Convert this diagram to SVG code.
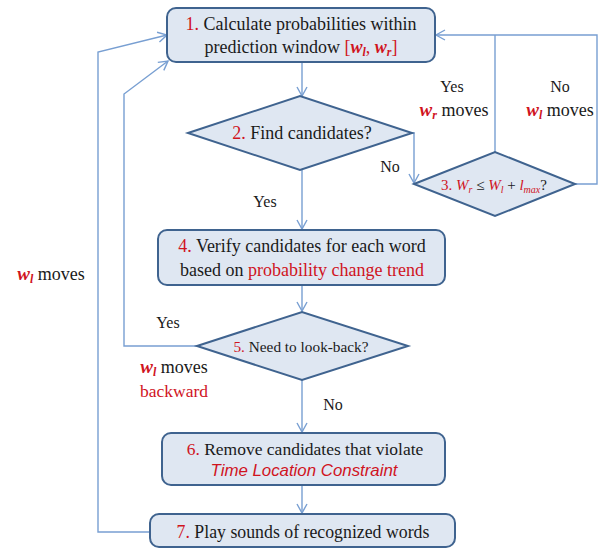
<svg xmlns="http://www.w3.org/2000/svg" width="599" height="549" viewBox="0 0 599 549">
<style>
.box{fill:#dfe7f2;stroke:#3f638f;stroke-width:2}
.con{fill:none;stroke:#789fd2;stroke-width:1.4}
.r{fill:#d0141e}
.w{fill:#d0141e;font-weight:bold;font-style:italic}
</style>
<defs>
<marker id="ar" markerWidth="12" markerHeight="12" refX="10" refY="6" orient="auto" markerUnits="userSpaceOnUse">
<polyline points="1,1 10,6 1,11" fill="none" stroke="#789fd2" stroke-width="1.4"/>
</marker>
</defs>
<rect width="599" height="549" fill="#ffffff"/>
<g id="connectors">
<line class="con" x1="302" y1="62" x2="302" y2="96" marker-end="url(#ar)"/>
<polyline class="con" points="412,133 414,133 414,183" marker-end="url(#ar)"/>
<polyline class="con" points="495,152 495,35"/>
<polyline class="con" points="575,184 597,184 597,35 436,35" marker-end="url(#ar)"/>
<line class="con" x1="302" y1="170" x2="302" y2="229" marker-end="url(#ar)"/>
<line class="con" x1="302" y1="285" x2="302" y2="311" marker-end="url(#ar)"/>
<polyline class="con" points="197,346 124,346 124,94 168,61" marker-end="url(#ar)"/>
<line class="con" x1="302" y1="380" x2="302" y2="432" marker-end="url(#ar)"/>
<line class="con" x1="302" y1="486" x2="302" y2="513" marker-end="url(#ar)"/>
<polyline class="con" points="150,532 98,532 98,52 167,35" marker-end="url(#ar)"/>
</g>
<g font-family="'Liberation Serif', 'DejaVu Serif', 'Times New Roman', serif" fill="#1a1a1a">
<g id="n1">
<rect class="box" x="167" y="8" width="268" height="54" rx="9"/>
<text x="301" y="30" font-size="18" text-anchor="middle"><tspan class="r">1.</tspan> Calculate probabilities within</text>
<text x="301" y="53" font-size="18" text-anchor="middle">prediction window <tspan class="r">[<tspan class="w">w</tspan><tspan class="w" font-size="12" dy="3">l</tspan><tspan dy="-3">, </tspan><tspan class="w">w</tspan><tspan class="w" font-size="12" dy="3">r</tspan><tspan dy="-3">]</tspan></tspan></text>
</g>
<g id="n2">
<polygon class="box" points="188,133 300,96 412,133 300,170"/>
<text x="302" y="139" font-size="18" text-anchor="middle"><tspan class="r">2.</tspan> Find candidates?</text>
</g>
<g id="n3">
<polygon class="box" points="414,184 495,152 575,184 495,216"/>
<text x="494" y="190" font-size="15" text-anchor="middle"><tspan class="r">3. <tspan font-style="italic">W</tspan><tspan font-style="italic" font-size="10" dy="3">r</tspan></tspan><tspan dy="-3"> ≤ </tspan><tspan class="r" font-style="italic">W</tspan><tspan class="r" font-style="italic" font-size="10" dy="3">l</tspan><tspan dy="-3"> + </tspan><tspan class="r" font-style="italic">l</tspan><tspan class="r" font-style="italic" font-size="10" dy="3">max</tspan><tspan dy="-3">?</tspan></text>
</g>
<g id="n4">
<rect class="box" x="158" y="230" width="287" height="55" rx="9"/>
<text x="302" y="252" font-size="18" text-anchor="middle"><tspan class="r">4.</tspan> Verify candidates for each word</text>
<text x="302" y="276" font-size="18" text-anchor="middle">based on <tspan class="r">probability change trend</tspan></text>
</g>
<g id="n5">
<polygon class="box" points="197,346 302,312 408,346 302,380"/>
<text x="301" y="352" font-size="15.3" text-anchor="middle"><tspan class="r">5.</tspan> Need to look-back?</text>
</g>
<g id="n6">
<rect class="box" x="162" y="433" width="283" height="52" rx="9"/>
<text x="305" y="455" font-size="17.5" text-anchor="middle"><tspan class="r">6.</tspan> Remove candidates that violate</text>
<text x="304" y="476" font-size="17" font-style="italic" text-anchor="middle" font-family="'Liberation Sans', Arial, sans-serif" fill="#d0141e" textLength="187" lengthAdjust="spacingAndGlyphs">Time Location Constraint</text>
</g>
<g id="n7">
<rect class="box" x="150" y="514" width="305" height="33" rx="9"/>
<text x="303" y="538" font-size="17.8" text-anchor="middle"><tspan class="r">7.</tspan> Play sounds of recognized words</text>
</g>
<g id="labels" font-size="16">
<text x="452" y="92" text-anchor="middle">Yes</text>
<text x="454" y="116" text-anchor="middle" font-size="18"><tspan class="w" font-size="19">w</tspan><tspan class="w" font-size="12" dy="3">r</tspan><tspan dy="-3"> moves</tspan></text>
<text x="560" y="92" text-anchor="middle">No</text>
<text x="560" y="116" text-anchor="middle" font-size="18"><tspan class="w" font-size="19">w</tspan><tspan class="w" font-size="12" dy="3">l</tspan><tspan dy="-3"> moves</tspan></text>
<text x="390" y="172" text-anchor="middle">No</text>
<text x="265" y="207" text-anchor="middle">Yes</text>
<text x="168" y="328" text-anchor="middle">Yes</text>
<text x="174" y="373" text-anchor="middle" font-size="18"><tspan class="w" font-size="19">w</tspan><tspan class="w" font-size="12" dy="3">l</tspan><tspan dy="-3"> moves</tspan></text>
<text class="r" x="174" y="397" text-anchor="middle" font-size="17.5">backward</text>
<text x="51" y="280" text-anchor="middle" font-size="18"><tspan class="w" font-size="19">w</tspan><tspan class="w" font-size="12" dy="3">l</tspan><tspan dy="-3"> moves</tspan></text>
<text x="333" y="410" text-anchor="middle">No</text>
</g>
</g>
</svg>
